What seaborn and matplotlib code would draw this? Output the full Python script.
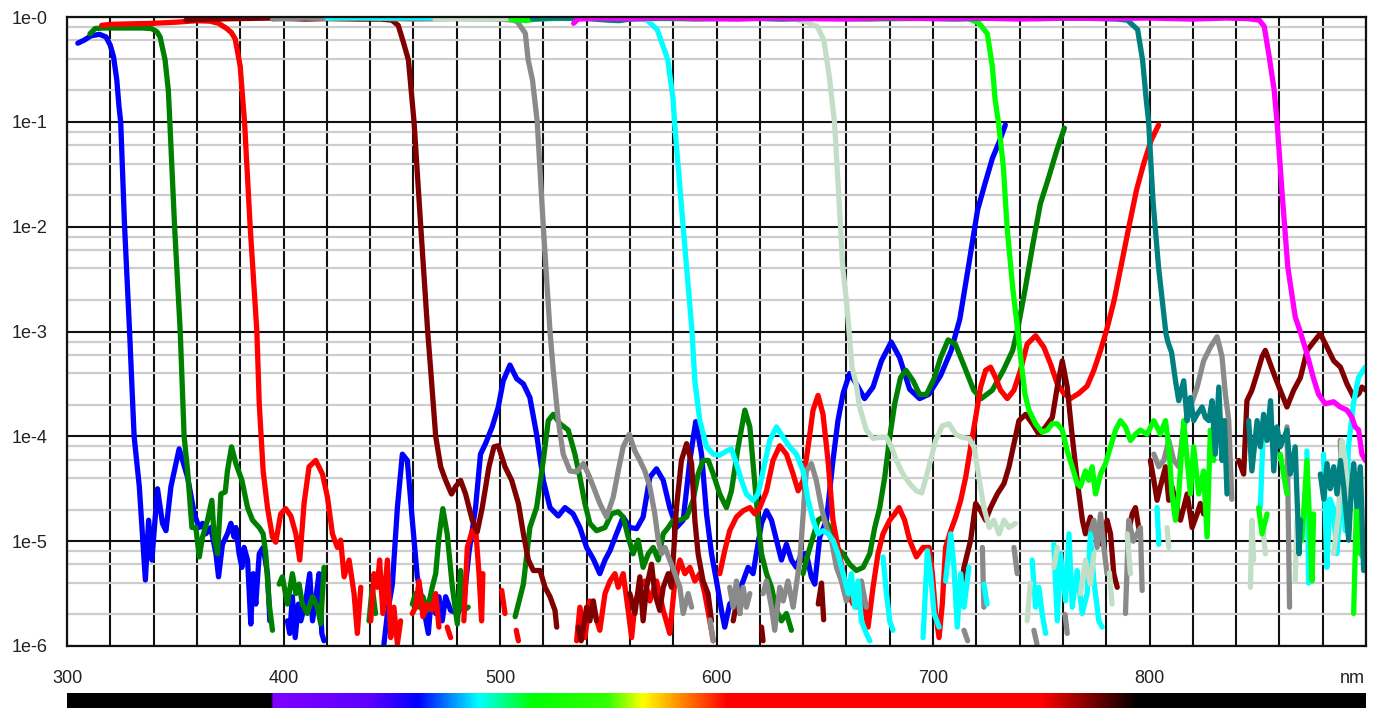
import numpy as np
import pandas as pd
import matplotlib
matplotlib.use("Agg")
import matplotlib.pyplot as plt
from matplotlib.ticker import FixedLocator, NullFormatter
from matplotlib.colors import LinearSegmentedColormap
import seaborn as sns

# Optical density (OD = -log10 T) versus wavelength (nm) for ten edge filters.
# None marks a break in the trace (signal below the measurement floor).
blue_pts = [
    (305, .25), (308, .22), (311, .18), (315, .165), (318, .19), (320, .27), (321.5, .38),
    (323, .6), (324, .85), (324.8, 1.0), (326.6, 2.0), (328.9, 3.0), (331, 4.0), (333.4, 4.48),
    (336.2, 5.37), (337.7, 4.8), (339.2, 5.18), (341.8, 4.5), (344.1, 4.83), (345.7, 4.9),
    (348, 4.48), (351.8, 4.12), (355.7, 4.39), (358.8, 4.74), (361, 4.87), (362.6, 4.83),
    (364.1, 4.93), (366.4, 4.87), (368.8, 5.12), (370, 5.34), (371.8, 5.03), (374.1, 4.93),
    (375.7, 4.83), (377.2, 4.96), (378, 4.87), (379.5, 5.12), (380.8, 5.25), (381.8, 5.06),
    (383.4, 5.18), (384.9, 5.79), (386, 5.31), (387.2, 5.6), (388.8, 5.12), (390.6, 5.06),
    (392.6, 5.31), (393.7, 5.76), None,
    (401.8, 5.76), (402.9, 5.88), (404.1, 5.53), (405.4, 5.92), (406.9, 5.6), (408, 5.76),
    (410.3, 5.57), (412.1, 5.31), (413.4, 5.76), (415.2, 5.5), (416.4, 5.31), (417.7, 5.88),
    (418.7, 5.95), None,
    (446.4, 5.98), (448, 5.69), (450.3, 5.41), (452.6, 4.68), (454.9, 4.17), (457.2, 4.23),
    (459.5, 4.8), (461.8, 5.34), (464.1, 5.57), (466.9, 5.88), (468, 5.6), (470.3, 5.69),
    (471.8, 5.53), (473.3, 5.76), (474.9, 5.53), (477.2, 5.66), (480.5, 5.69), (483.3, 5.57),
    (485.6, 5.12), (488.7, 4.68), (491, 4.17), (493.3, 4.07), (496.4, 3.91), (499.2, 3.72),
    (501.5, 3.47), (504.6, 3.32), (507.7, 3.45), (510.8, 3.5), (513.8, 3.63), (516.9, 3.98),
    (520, 4.42), (523.1, 4.68), (526.9, 4.76), (530, 4.68), (533.8, 4.74), (536.9, 4.87),
    (540, 5.06), (543.1, 5.17), (546.1, 5.31), (548.5, 5.18), (550.8, 5.09), (553.8, 4.93),
    (556.9, 4.77), (560, 4.87), (563.1, 4.88), (566.1, 4.77), (569.2, 4.39), (572.3, 4.31),
    (575.4, 4.42), (578.4, 4.68), (581.5, 4.87), (584.6, 4.8), (587.7, 4.23), (590.4, 3.86),
    (593.1, 4.17), (595.4, 4.74), (597.7, 5.12), (600, 5.38), (602.3, 5.66), (603.8, 5.82),
    (606.1, 5.6), (609.2, 5.53), (612.3, 5.38), (614.6, 5.25), (616.9, 5.31), (618.4, 5.12),
    (620.8, 4.83), (623.1, 4.71), (625.4, 4.8), (627.7, 4.99), (630, 5.18), (632.3, 5.03),
    (634.6, 5.18), (636.9, 5.25), (639.2, 5.12), (641.5, 5.12), (643.8, 5.34), (645.4, 5.41),
    (647.7, 4.96), (650.8, 4.8), (653.8, 4.23), (656.1, 3.85), (658.5, 3.59), (661.5, 3.4),
    (664.6, 3.5), (668.4, 3.64), (672.3, 3.53), (676.2, 3.28), (680.7, 3.1), (684.6, 3.25),
    (689.2, 3.55), (693.8, 3.64), (698, 3.6), (703.5, 3.42), (708.4, 3.18), (712.4, 2.88),
    (716.3, 2.39), (720.6, 1.84), (724, 1.59), (727.4, 1.35), (730.8, 1.18), (733.4, 1.03),
]

green_pts = [
    (310.6, .16), (313, .11), (317, .105), (325, .105), (335, .105), (339, .11), (341.5, .14),
    (343, .19), (345.3, .41), (346.8, .7), (347.5, 1.0), (349.7, 2.0), (352.3, 3.0), (354.1, 4.0),
    (355.7, 4.33), (357.7, 4.87), (359.5, 4.87), (361.1, 5.15), (362.6, 4.96), (364.9, 4.8),
    (366.9, 4.61), (368, 4.96), (369.5, 5.12), (371.1, 4.55), (373.1, 4.53), (374.1, 4.33),
    (376, 4.1), (378, 4.26), (380.8, 4.42), (383.4, 4.68), (385.7, 4.8), (388.8, 4.87),
    (390.6, 4.93), (391.8, 5.12), (393.4, 5.6), (394.9, 5.85), None,
    (398, 5.41), (399.5, 5.34), (401.8, 5.6), (404.1, 5.31), (405.7, 5.5), (407.2, 5.41),
    (408.7, 5.6), (411, 5.69), (413.4, 5.53), (415.7, 5.63), (417.2, 5.79), (418.7, 5.25), None,
    (439.5, 5.76), (441, 5.44), (442.5, 5.69), None,
    (459.5, 5.6), (461, 5.5), (462.6, 5.63), (464.4, 5.53), (466.4, 5.66), (468.7, 5.44),
    (470.3, 5.31), (471.8, 4.96), (473.6, 4.69), (475.6, 4.93), (478, 5.44), (480.3, 5.79),
    (481.8, 5.28), (483.3, 5.66), (485.3, 5.63), None,
    (507, 5.72), (510.8, 5.41), (513.8, 4.87), (516.9, 4.68), (520, 4.23), (522.3, 3.85),
    (524.6, 3.79), (527.7, 3.88), (531.5, 3.94), (534.6, 4.17), (536.9, 4.39), (539.2, 4.64),
    (541.5, 4.83), (544.6, 4.9), (548.5, 4.87), (551.5, 4.74), (554.6, 4.72), (556.9, 4.77),
    (559.2, 4.96), (561.5, 5.12), (563.8, 4.99), (566.1, 5.25), (568.5, 5.12), (570.8, 5.06),
    (573.1, 5.18), (575.4, 4.93), (577.7, 4.87), (580, 4.8), (583.1, 4.8), (586.2, 4.77),
    (589.2, 4.61), (591.5, 4.36), (593.8, 4.23), (596.2, 4.23), (598.5, 4.36), (601.5, 4.55),
    (604.6, 4.68), (606.9, 4.52), (610, 4.1), (613.1, 3.75), (615.4, 3.91), (617.7, 4.45),
    (619.2, 4.8), (620.8, 5.12), (623.1, 5.31), (625.4, 5.44), (627.7, 5.66), (630, 5.76),
    (632.3, 5.69), (634.6, 5.85), None,
    (640, 5.31), (642.3, 5.12), (644.6, 4.96), (646.9, 4.8), (649.2, 4.77), (652.3, 4.87),
    (655.4, 5.06), (658.5, 5.12), (661.5, 5.22), (664.6, 5.28), (667.7, 5.25), (670.8, 5.12),
    (673.1, 4.87), (675.4, 4.68), (677.7, 4.39), (680, 4.01), (682.3, 3.69), (685, 3.44),
    (687.5, 3.37), (690.8, 3.47), (693.8, 3.6), (697, 3.6), (700.5, 3.45), (703.5, 3.25),
    (707, 3.08), (710.3, 3.12), (714.6, 3.34), (718.8, 3.56), (722.3, 3.64), (727.4, 3.56),
    (732.5, 3.37), (736.8, 3.18), (739.3, 2.96), (742.7, 2.58), (746.2, 2.16), (749.6, 1.78),
    (753, 1.56), (757.2, 1.27), (760.7, 1.06),
]

red_pts = [
    (316, .08), (320, .07), (330, .065), (340, .06), (350, .05), (360, .035), (366, .04),
    (370, .06), (373.8, .11), (376, .15), (377.7, .21), (380, .47), (381.2, .79), (382, 1.0),
    (384.6, 2.0), (387.7, 3.0), (388.8, 3.69), (390.6, 4.33), (392.6, 4.68), (394.9, 4.96),
    (396.4, 5.01), (398.7, 4.74), (401, 4.69), (403.4, 4.76), (405.7, 4.93), (407.5, 5.18),
    (409.5, 4.64), (411.8, 4.29), (414.9, 4.23), (418, 4.36), (420.3, 4.58), (422.6, 4.93),
    (424.9, 5.06), (426.4, 4.99), (428, 5.34), (430.3, 5.18), (432.6, 5.5), (434.1, 5.88),
    (435.7, 5.44), None,
    (440.3, 5.76), (441.8, 5.31), (443.3, 5.44), (444.4, 5.18), (445.9, 5.69), (448, 5.18),
    (449.5, 5.92), (451, 5.63), (452.6, 5.98), (454.1, 5.76), None,
    (459.5, 5.69), (461, 5.63), (462.6, 5.38), (464.4, 5.72), (466.4, 5.6), (468.7, 5.66),
    (470.3, 5.5), (471.8, 5.82), None,
    (475.6, 5.82), (477.2, 5.92), None,
    (483.3, 5.76), (484.9, 5.06), (487.2, 4.9), (488.7, 4.87), (490.3, 5.31), (491.5, 5.76),
    (492.1, 5.31), None,
    (500.8, 5.47), (502.3, 5.69), None,
    (507.5, 5.85), (508.5, 5.95), None,
    (535.4, 5.95), (536.9, 5.63), (539.2, 5.92), (541.5, 5.57), (543.8, 5.69), (546.1, 5.85),
    (548.5, 5.5), (550.8, 5.38), (553.1, 5.31), (554.6, 5.44), (556.9, 5.31), (559.2, 5.66),
    (560.8, 5.92), (562.3, 5.6), (564.6, 5.44), (566.9, 5.38), (569.2, 5.57), (572.3, 5.38),
    (575.4, 5.66), (578.4, 5.88), (580.8, 5.38), (583.1, 5.18), (585.4, 5.31), (587.7, 5.25),
    (590, 5.38), (592.3, 5.31), (594.6, 5.5), (596.9, 5.76), (598.5, 5.95), None,
    (601.5, 5.31), (603.8, 5.09), (606.1, 4.9), (609.2, 4.77), (612.3, 4.71), (615.4, 4.68),
    (617.7, 4.74), (620, 4.68), (623.1, 4.52), (626.1, 4.23), (629.2, 4.09), (632.3, 4.17),
    (635.4, 4.36), (637.7, 4.52), (640, 4.42), (642.3, 4.1), (644.6, 3.75), (646.9, 3.61),
    (649.2, 3.79), (651.5, 4.23), (653.8, 4.8), (656.1, 5.06), (658.5, 5.31), (660.8, 5.5),
    (663.1, 5.6), (665.4, 5.5), (668.4, 5.63), (670, 5.82), (672.3, 5.44), (674.6, 5.12),
    (676.9, 4.93), (680, 4.8), (682.3, 4.74), (684.3, 4.68), (686.9, 4.8), (689.2, 4.99),
    (692.3, 5.15), (695.4, 5.06), (698.2, 5.06), (699.7, 5.31), (701.2, 5.69), (702.8, 5.92),
    (704.3, 5.6), (705.8, 5.06), (708.2, 4.9), (710.5, 4.77), (712.8, 4.61), (715.1, 4.39),
    (717.4, 4.1), (719.7, 3.82), (722, 3.53), (724.3, 3.37), (726.6, 3.34), (728.9, 3.44),
    (731.2, 3.56), (734.3, 3.64), (737.4, 3.56), (740.4, 3.37), (743.5, 3.12), (747.4, 3.04),
    (751.2, 3.15), (754.3, 3.31), (757.4, 3.5), (760.4, 3.59), (763.5, 3.64), (767.4, 3.59),
    (771.2, 3.52), (774.3, 3.37), (777.4, 3.18), (780.4, 2.97), (783.7, 2.7), (787.1, 2.35),
    (790.5, 2.0), (794, 1.65), (797.3, 1.4), (800.7, 1.18), (804.2, 1.03),
]

maroon_pts = [
    (355, .03), (365, .02), (380, .015), (395, .01), (410, .02), (420, .015), (435, .02),
    (445, .02), (450, .03), (453, .08), (455.5, .25), (457.7, .41), (460.3, 1.0), (463.4, 2.0),
    (466.6, 3.0), (468, 3.37), (470.3, 4.0), (472.6, 4.29), (474.9, 4.42), (477.6, 4.55),
    (479.5, 4.48), (481.8, 4.42), (484.1, 4.55), (487.2, 4.8), (489.5, 4.91), (491.8, 4.68),
    (494.9, 4.29), (497.2, 4.1), (499.2, 4.09), (502.3, 4.29), (505.4, 4.42), (508.5, 4.64),
    (510.8, 4.93), (513.1, 5.18), (515.4, 5.28), (518.5, 5.28), (520.8, 5.44), (523.1, 5.53),
    (525.4, 5.66), (526.2, 5.82), None,
    (536.1, 5.82), (537.5, 5.95), (540, 5.63), (541.5, 5.76), (543.1, 5.57), (544.6, 5.76), None,
    (560, 5.5), (562.3, 5.69), (564.6, 5.34), (566.1, 5.76), (567.7, 5.44), (570, 5.22),
    (571.5, 5.5), (573.8, 5.66), (575.4, 5.44), (577.7, 5.31), (579.2, 5.44), (581.5, 4.68),
    (583.8, 4.23), (586.2, 4.07), (588.5, 4.26), (590, 4.8), (591.5, 5.12), (593.8, 5.38),
    (596.1, 5.5), (597.7, 5.76), None,
    (607.7, 5.76), (609.2, 5.6), (610.8, 5.69), None,
    (620.8, 5.82), (621.5, 5.95), None,
    (647, 5.6), (648.5, 5.4), (649.5, 5.75), None,
    (712, 5.6), (714.3, 5.25), (717.4, 4.99), (719.7, 4.64), (722, 4.71), (724.3, 4.8),
    (726.6, 4.68), (729.7, 4.55), (732.8, 4.45), (735.1, 4.29), (737.4, 4.07), (739.7, 3.85),
    (742.8, 3.79), (745.9, 3.88), (748.9, 3.98), (752, 3.91), (755.1, 3.82), (757.4, 3.53),
    (759.7, 3.28), (762, 3.53), (764.3, 4.0), (766.6, 4.42), (769, 4.8), (770.4, 4.93),
    (772.7, 4.77), (774.3, 4.93), (775.8, 4.87), (778.1, 5.03), (780.4, 4.8), (782, 4.93),
    (783.5, 5.31), (785.1, 5.44), None,
    (790.4, 4.9), (792, 4.74), (793.5, 4.68), (795, 4.87), (795.8, 4.93), None,
    (800.4, 4.23), (802, 4.42), (803.5, 4.61), (805, 4.48), (807.4, 4.29), (808.9, 4.61),
    (810.4, 4.48), (812.7, 4.68), (814.3, 4.8), (815.8, 4.68), (817.4, 4.55), (819.7, 4.87),
    (822, 4.74), (823.5, 4.64), (825, 4.74), None,
    (841.2, 4.23), (843.5, 4.36), (845, 3.66), (847.3, 3.56), (849.7, 3.4), (852, 3.24),
    (853.5, 3.18), (855.8, 3.31), (858.1, 3.44), (860.4, 3.56), (863.5, 3.72), (866.6, 3.56),
    (869.7, 3.44), (872.8, 3.18), (875.8, 3.1), (878.9, 3.02), (882, 3.15), (885.1, 3.28),
    (888.2, 3.34), (891.2, 3.5), (894.4, 3.63), (896.8, 3.59), (898.1, 3.53), (900, 3.56),
]

gray_pts = [
    (395, .02), (410, .01), (425, .015), (440, .01), (460, .02), (480, .015), (500, .02),
    (506, .03), (508, .045), (511.7, .156), (513, .41), (515, .6), (517.2, 1.0), (520, 2.0),
    (523.1, 3.0), (524.6, 3.37), (526.9, 3.85), (529.2, 4.17), (532.3, 4.33), (535.4, 4.34),
    (538.5, 4.26), (540.8, 4.36), (543.1, 4.48), (546.1, 4.64), (549.2, 4.77), (552.3, 4.58),
    (554.6, 4.33), (556.9, 4.1), (559.7, 3.98), (562.3, 4.14), (564.6, 4.23), (566.9, 4.33),
    (569.2, 4.48), (571.5, 4.74), (573.1, 4.99), (574.6, 5.12), (576.2, 5.06), (578.4, 5.18),
    (580.8, 5.31), (583.1, 5.44), (584.6, 5.69), (586.9, 5.5), (588.5, 5.63), None,
    (597, 5.75), (598.5, 5.95), None,
    (606.1, 5.44), (607.7, 5.63), (609.2, 5.38), (610.8, 5.69), (612.3, 5.44), (613.8, 5.63),
    (615.4, 5.5), None,
    (621.5, 5.5), (623.1, 5.38), (625.4, 5.63), (626.9, 5.85), (629.2, 5.44), (630.8, 5.57),
    (633, 5.38), (635.4, 5.63), (638.5, 5.18), (641.5, 4.33), (643.8, 4.26), (646.1, 4.42),
    (648.5, 4.68), (650.8, 4.87), (653.1, 4.99), (655.4, 5.25), (657.7, 5.38), (660, 5.57),
    (662.3, 5.44), (664.6, 5.63), (666.9, 5.38), (669.2, 5.63), None,
    (714.3, 5.85), (716, 5.95), None,
    (722.8, 5.06), (723.5, 5.63), None,
    (737.4, 5.06), (738.9, 5.31), None,
    (746.6, 5.85), (748, 5.98), None,
    (761, 5.7), (762, 5.88), None,
    (772.8, 4.9), (774.3, 4.8), (775.8, 5.06), (777.4, 4.74), (778.9, 5.06), (780.4, 5.31), None,
    (788.9, 5.69), (790.4, 4.8), (792.5, 5.0), (795.8, 4.87), (796.6, 5.47), None,
    (802, 4.17), (804.3, 4.29), (806.6, 4.23), (808.9, 4.04), (811.2, 4.23), (813.5, 4.29),
    (815.8, 3.91), (818.9, 3.72), (822, 3.53), (825, 3.28), (828.1, 3.15), (831.2, 3.05),
    (833.5, 3.24), (835, 3.59), (836.6, 3.85), (837.3, 4.23), (838, 4.6), None,
    (863.5, 3.91), (864.7, 5.63), None,
    (888.1, 4.04), (888.9, 4.48),
]

cyan_pts = [
    (420, .01), (430, .005), (445, .01), (460, .005), (480, .01), (500, .008), (520, .015),
    (540, .01), (555, .02), (565, .02), (568, .03), (572.6, .12), (576.4, .34), (577.5, .41),
    (580, .79), (580.6, 1.0), (584.6, 2.0), (588.7, 3.0), (590, 3.47), (592.3, 3.85),
    (595.4, 4.1), (598.5, 4.17), (601.5, 4.18), (604.6, 4.14), (606.9, 4.12), (609.2, 4.26),
    (611.5, 4.42), (613.8, 4.55), (616.9, 4.61), (619.2, 4.55), (621.5, 4.33), (624.6, 4.04),
    (627.7, 3.91), (630.8, 4.01), (633.8, 4.1), (636.9, 4.17), (640, 4.33), (642.3, 4.61),
    (644.6, 4.8), (646.9, 4.93), (649.2, 4.9), (651.5, 4.93), (653.8, 4.99), (656.1, 5.12),
    (658.5, 5.31), (660.8, 5.5), (662.3, 5.31), (663.8, 5.63), (665.4, 5.38), (666.9, 5.76),
    (669.2, 5.88), (670.8, 5.95), None,
    (676.9, 5.15), (678.5, 5.5), (680, 5.76), (681.5, 5.85), None,
    (695.4, 5.92), (696.9, 5.31), (697.4, 5.09), (698.9, 5.31), (700.5, 5.69), (702.8, 5.82), None,
    (705.8, 5.38), (708.2, 4.93), (709.7, 5.25), (711.2, 5.82), (712.8, 5.31), (714.3, 5.63),
    (716.6, 5.25), None,
    (723.5, 5.41), (725, 5.6), None,
    (745.8, 5.18), (747.4, 5.63), (748.9, 5.44), (750.4, 5.69), (752, 5.88), None,
    (755.8, 5.03), (757.4, 5.76), (758.9, 5.12), (761.2, 5.57), (762.8, 4.93), (764.3, 5.63),
    (766.6, 5.28), (768.9, 5.69), (771.2, 5.5), (772.7, 4.93), (774.3, 5.38), (776.6, 5.76),
    (778.1, 5.82), None,
    (803.5, 4.68), (804.3, 5.03), None,
    (851.2, 4.68), (852.7, 3.85), None,
    (872.7, 4.14), (873.5, 5.4), None,
    (880.4, 4.17), (881.9, 5.25), (883.4, 4.6), (884.9, 4.68), (886.5, 5.12), (887.7, 4.8),
    (888.9, 4.23), (890.4, 4.9), (891.9, 4.1), (894.2, 3.69), (896.5, 3.44), (899.6, 3.34),
]

pale_pts = [
    (470, .02), (480, .015), (495, .02), (510, .01), (530, .015), (550, .01), (570, .02),
    (590, .01), (610, .015), (625, .01), (636, .02), (641, .045), (646.5, .09), (649.6, .22),
    (652.3, .6), (653.3, .79), (654.5, 1.0), (656.6, 1.75), (658.3, 2.39), (660, 2.7),
    (662.6, 3.34), (664.5, 3.5), (666.1, 3.72), (669.2, 3.94), (672.3, 4.02), (675.4, 4.01),
    (678.5, 4.01), (680.8, 4.1), (683.1, 4.23), (686.1, 4.36), (689.2, 4.45), (692.3, 4.52),
    (694.8, 4.54), (697.5, 4.34), (701.2, 4.04), (704.3, 3.9), (707.4, 3.88), (710.5, 3.98),
    (713.5, 4.01), (716.6, 4.02), (718.9, 4.1), (721.2, 4.39), (723.5, 4.68), (726, 4.87),
    (728.1, 4.8), (730.5, 4.93), (732.8, 4.8), (735.1, 4.87), (738.1, 4.83), None,
    (743.5, 5.76), (745, 5.4), None,
    (755.8, 5.25), (757.4, 5.06), None,
    (768.1, 5.5), (770.4, 5.18), (772.7, 5.41), (774.3, 5.12), None,
    (781.5, 5.3), (782.7, 5.6), None,
    (789.7, 4.93), (791.2, 5.31), None,
    (808.1, 4.87), (808.9, 5.06), None,
    (846.6, 5.44), (847.3, 4.8), (848.1, 5.18), None,
    (852.5, 4.9), (853.5, 5.12), None,
    (867.3, 5.38), (868.1, 4.8), None,
    (885, 5.12), (887.3, 4.74), (888.9, 4.04), (890.4, 4.23), (891.9, 4.64),
]

lime_pts = [
    (505, .02), (512, .035), (516, .02), (530, .01), (550, .015), (570, .01), (590, .02),
    (610, .01), (630, .015), (650, .01), (670, .02), (690, .015), (705, .01), (715.9, .01),
    (721.3, .06), (725.1, .16), (727.4, .47), (728.7, .79), (730.2, 1.0), (732.5, 1.43),
    (734.2, 2.0), (736.8, 2.58), (739.3, 3.02), (741, 3.34), (742.5, 3.6), (744.3, 3.75),
    (747.4, 3.88), (750.4, 3.96), (752.8, 3.94), (755.1, 3.88), (757.4, 3.88), (759.7, 3.94),
    (762, 4.14), (764.3, 4.29), (766.6, 4.45), (768.1, 4.48), (770.4, 4.33), (771.9, 4.42),
    (773.5, 4.29), (775.1, 4.55), (777.4, 4.36), (779.7, 4.26), (782, 4.1), (784.3, 3.94),
    (786.6, 3.85), (788.9, 3.91), (791.2, 4.04), (793.5, 3.98), (795.8, 3.94), (798.9, 3.98),
    (802, 3.85), (803.5, 3.91), (805, 3.98), (807.4, 3.85), (808.9, 4.1), (810.4, 4.55),
    (812, 4.8), (813.5, 4.55), (815.8, 3.85), (817.4, 4.23), (818.9, 4.55), (820.4, 4.1),
    (822.7, 4.55), (825, 4.33), (826.6, 4.96), (828.1, 3.94), (829.7, 4.23), None,
    (850.4, 4.68), (852, 4.93), (854.3, 4.74), None,
    (860.4, 4.17), (863.5, 4.55), None,
    (870.4, 4.99), (872.7, 4.23), (875.1, 5.38), (875.8, 4.74), None,
    (894.3, 5.69), (895.8, 4.48), (897.4, 5.12), (899.7, 5.18),
]

teal_pts = [
    (515, .02), (525, .01), (540, .015), (550, .03), (555, .035), (560, .02), (575, .01),
    (590, .015), (610, .01), (630, .02), (650, .01), (670, .015), (690, .01), (710, .02),
    (730, .01), (750, .015), (770, .01), (785, .02), (789.8, .03), (794.5, .12), (796.8, .41),
    (798.5, .79), (799.6, 1.0), (801.6, 1.75), (804.2, 2.39), (807.6, 3.02), (808.5, 3.1),
    (810.2, 3.2), (812, 3.47), (813.5, 3.66), (815.8, 3.47), (817.4, 3.85), (818.9, 3.63),
    (820.4, 3.85), (822, 3.79), (824.3, 3.72), (825.8, 3.82), (827.4, 3.85), (828.9, 3.66),
    (830.4, 4.17), (832, 3.53), (833.5, 4.23), (834.6, 3.85), (835.8, 4.55), None,
    (845.8, 3.85), (847.3, 4.33), (849.7, 3.85), (851.2, 4.1), (852.7, 3.79), (854.3, 4.04),
    (855.9, 3.66), (857.4, 4.33), (858.9, 3.91), (860.4, 4.1), (863.5, 3.94), (865, 4.36),
    (867.3, 4.1), (869.1, 5.12), (869.8, 4.8), None,
    (878.9, 4.36), (880.5, 4.6), (882, 4.26), (883.5, 4.5), (885.1, 4.29), (886.6, 4.55),
    (888.2, 4.23), (889.7, 4.48), (892, 4.99), (893.2, 4.5), (894.3, 4.26), (895.8, 4.67),
    (897.4, 4.29), (898.9, 5.28), (900, 5.12),
]

magenta_pts = [
    (534, .06), (536, .02), (545, .01), (560, .015), (575, .005), (590, .015), (610, .02),
    (625, .01), (640, .015), (660, .02), (680, .01), (700, .015), (720, .01), (740, .02),
    (760, .01), (780, .015), (800, .01), (820, .02), (835, .01), (845, .015), (850.7, .03),
    (853, .09), (855.3, .38), (857.6, .7), (858.9, 1.0), (861.5, 1.75), (863.9, 2.39),
    (867.3, 2.86), (869.6, 3.0), (872.7, 3.21), (875.8, 3.45), (878.1, 3.6), (881.2, 3.69),
    (885, 3.67), (888.1, 3.72), (891.2, 3.75), (893.5, 3.82), (895, 3.91), (896.6, 3.94),
    (898.1, 4.17), (899.7, 4.23),
]

filter_names = ["F1", "F2", "F3", "F4", "F5", "F6", "F7", "F8", "F9", "F10"]
filter_points = [blue_pts, green_pts, red_pts, maroon_pts, gray_pts, cyan_pts,
                 pale_pts, lime_pts, teal_pts, magenta_pts]
filter_colors = ["#0000ff", "#008000", "#ff0000", "#800000", "#8a8a8a", "#00ffff",
                 "#c3dec6", "#00ff00", "#008080", "#ff00ff"]

# Spectrum strip under the axis: wavelength stops and their colours.
spectrum_nm = [300, 394, 395, 440, 462, 490, 515, 550, 566, 585, 605, 750, 795, 900]
spectrum_rgb = ["#000000", "#000000", "#8000ff", "#5a00ff", "#0000ff", "#00ffff", "#00ff00",
                "#33ff00", "#ffff00", "#ff8000", "#ff0000", "#ff0000", "#000000", "#000000"]

y_decades = list(range(7))
x_label_values = [300, 400, 500, 600, 700, 800]

# Long-form table; each unbroken stretch of a trace becomes its own unit.
rows = []
seg_id = 0
for name, pts in zip(filter_names, filter_points):
    seg_id += 1
    for p in pts:
        if p is None:
            seg_id += 1
            continue
        rows.append({"filter": name, "seg": seg_id, "nm": p[0], "T": 10.0 ** (-p[1])})
df = pd.DataFrame(rows)

sns.set_style("white")
plt.rcParams["font.family"] = ["Liberation Sans", "DejaVu Sans"]
plt.rcParams["lines.solid_capstyle"] = "round"
plt.rcParams["lines.solid_joinstyle"] = "round"

W, H = 1379, 708
fig = plt.figure(figsize=(W / 100, H / 100), dpi=100)
ax = fig.add_axes([67 / W, 1 - 646 / H, 1299 / W, 629 / H])

sns.lineplot(data=df, x="nm", y="T", hue="filter", units="seg", estimator=None,
             hue_order=filter_names, palette=dict(zip(filter_names, filter_colors)),
             linewidth=3.8, legend=False, ax=ax)

ax.set_yscale("log")
ax.set_xlim(300, 900)
ax.set_ylim(1e-6, 1)

xt = np.arange(300, 901, 20)
ax.set_xticks(xt)
ax.set_xticklabels([str(v) if v in x_label_values else "" for v in xt])
ax.set_yticks([10.0 ** -k for k in y_decades])
ax.set_yticklabels([f"1e-{k}" for k in y_decades])
ax.yaxis.set_minor_locator(FixedLocator([m * 10.0 ** -k for k in range(1, 7) for m in (2, 4, 6, 8)]))
ax.yaxis.set_minor_formatter(NullFormatter())
ax.xaxis.set_minor_locator(FixedLocator([]))

ax.set_axisbelow(True)
ax.grid(which="minor", axis="y", color="#cdcdcd", linewidth=1.6)
ax.grid(which="major", axis="both", color="#111111", linewidth=1.5)
ax.tick_params(axis="both", which="both", length=0, labelsize=13, labelcolor="#222222")
ax.tick_params(axis="x", pad=17)
ax.tick_params(axis="y", pad=14)
for s in ax.spines.values():
    s.set_color("#111111")
    s.set_linewidth(1.6)
ax.set_xlabel("")
ax.set_ylabel("")

fig.text(1365 / W, 1 - 670 / H, "nm", ha="right", va="top", fontsize=13, color="#222222")

# Visible-spectrum colour strip
cax = fig.add_axes([67 / W, 0, 1299 / W, 15 / H])
cmap = LinearSegmentedColormap.from_list(
    "spectrum", [((v - 300) / 600, c) for v, c in zip(spectrum_nm, spectrum_rgb)], N=1024)
cax.imshow(np.linspace(0, 1, 1200)[None, :], cmap=cmap, aspect="auto",
           extent=[300, 900, 0, 1], interpolation="bilinear")
cax.set_axis_off()

fig.savefig("out.png", dpi=100)
